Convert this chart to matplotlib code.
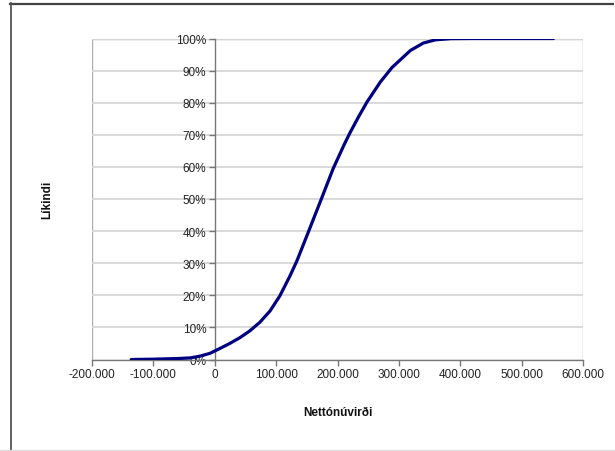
import matplotlib
matplotlib.use("Agg")
import matplotlib.pyplot as plt
from matplotlib.patches import Rectangle
from matplotlib.lines import Line2D
from matplotlib.ticker import FuncFormatter

# Data (net present value vs cumulative probability)
npv = [-136000, -100000, -60000, -40000, -25000, -8000, 8000, 24500, 41000, 57000,
       73500, 90000, 106000, 122500, 134000, 150000, 171600, 193000, 211000, 220000,
       234000, 248000, 270000, 289000, 319000, 340000, 360000, 385000, 420000, 552000]
prob = [0.0, 0.001, 0.003, 0.005, 0.010, 0.019, 0.034, 0.050, 0.068, 0.089,
        0.116, 0.151, 0.198, 0.26, 0.308, 0.385, 0.49, 0.595, 0.67, 0.705,
        0.755, 0.802, 0.865, 0.91, 0.963, 0.986, 0.996, 0.9995, 1.0, 1.0]

x_ticks = [-200000, -100000, 0, 100000, 200000, 300000, 400000, 500000, 600000]
y_ticks = [i / 10 for i in range(11)]
x_label = "Nettónúvirði"
y_label = "Líkindi"

W, H = 615, 452
fig = plt.figure(figsize=(W / 100, H / 100), dpi=100)
fig.patch.set_facecolor("white")


def fx(p):
    return p / W


def fy(p):
    return 1 - p / H


# outer chart frame
fig.lines.append(Line2D([fx(10), fx(613)], [fy(4.5), fy(4.5)], transform=fig.transFigure,
                        color="#444444", linewidth=1.6))
fig.lines.append(Line2D([fx(11), fx(11)], [fy(4), fy(452)], transform=fig.transFigure,
                        color="#555555", linewidth=1.3))
fig.lines.append(Line2D([fx(0), fx(615)], [fy(451), fy(451)], transform=fig.transFigure,
                        color="#dddddd", linewidth=1.0))

L, R, T, B = 92, 583, 39.5, 360.5
ax = fig.add_axes([L / W, 1 - B / H, (R - L) / W, (B - T) / H])
ax.set_xlim(-200000, 600000)
ax.set_ylim(0, 1)

for sp in ["top", "right"]:
    ax.spines[sp].set_visible(False)
ax.spines["left"].set_position(("data", 0))
ax.spines["left"].set_color("#777777")
ax.spines["bottom"].set_color("#777777")
ax.spines["left"].set_linewidth(1.0)
ax.spines["bottom"].set_linewidth(1.0)
ax.add_patch(Rectangle((0, 0), 1, 1, transform=ax.transAxes, fill=False,
                       edgecolor="#b0b0b0", linewidth=1.0, zorder=0.5))

ax.set_yticks(y_ticks)
ax.set_xticks(x_ticks)
ax.yaxis.set_major_formatter(FuncFormatter(lambda v, p: f"{int(round(v*100))}%"))
ax.xaxis.set_major_formatter(FuncFormatter(lambda v, p: f"{int(v):,}".replace(",", ".")))
for v in y_ticks[1:]:
    ax.axhline(v, color="#d8d8d8", linewidth=1.3, zorder=0.6)

fnt = "Liberation Sans"
ax.tick_params(axis="both", direction="out", length=4, width=1, color="#777777",
               labelsize=8.5, labelcolor="#222222", pad=2)
for lab in ax.get_xticklabels() + ax.get_yticklabels():
    lab.set_fontfamily(fnt)

ax.plot(npv, prob, color="#000080", linewidth=2.3, solid_capstyle="round",
        solid_joinstyle="round", zorder=3)

fig.text((L + R) / 2 / W, 1 - 413 / H, x_label, ha="center", va="center",
         fontsize=8.5, fontweight="bold", family=fnt, color="#111111")
fig.text(47 / W, 1 - 200 / H, y_label, ha="center", va="center", rotation=90,
         fontsize=8.5, fontweight="bold", family=fnt, color="#111111")

fig.savefig("out.png", dpi=100)
